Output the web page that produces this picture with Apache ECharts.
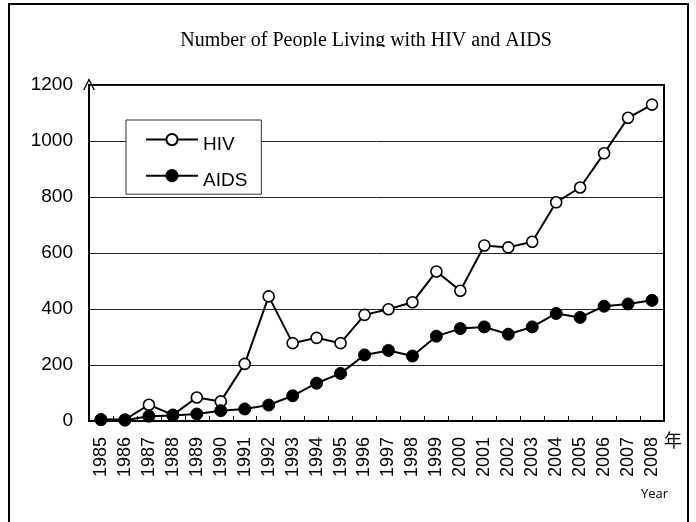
<!DOCTYPE html>
<html>
<head>
<meta charset="utf-8">
<script src="https://cdn.jsdelivr.net/npm/echarts@6/dist/echarts.min.js"></script>
<style>
  html, body { margin: 0; padding: 0; background: #fff; }
  #chart { width: 696px; height: 522px; }
</style>
</head>
<body>
<div id="chart"></div>
<script>
var years = ['1985', '1986', '1987', '1988', '1989', '1990', '1991', '1992', '1993', '1994', '1995', '1996',
  '1997', '1998', '1999', '2000', '2001', '2002', '2003', '2004', '2005', '2006', '2007', '2008'];
var hiv = [5, 5, 58, 22, 84, 70, 204, 445, 278, 297, 278, 379, 399, 424, 534, 465, 627, 620, 640, 781, 834, 956, 1083, 1130];
var aids = [5, 3, 17, 20, 25, 37, 43, 57, 90, 135, 170, 236, 252, 232, 303, 330, 336, 310, 336, 384, 370, 410, 418, 431];
var yTicks = [0, 200, 400, 600, 800, 1000, 1200];

var chart = echarts.init(document.getElementById('chart'), null, { renderer: 'canvas' });

var sans = '"Liberation Sans", Arial, sans-serif';

chart.setOption({
  animation: false,
  backgroundColor: '#fff',
  title: {
    text: 'Number of People Living with HIV and AIDS',
    left: 361,
    textAlign: 'center',
    top: 26,
    textStyle: { fontFamily: '"Liberation Serif", "Times New Roman", serif', fontSize: 20, fontWeight: 'normal', color: '#000' }
  },
  legend: {
    orient: 'vertical',
    left: 126,
    top: 120,
    padding: [13, 14, 4, 19],
    itemGap: 15,
    itemWidth: 52,
    itemHeight: 14,
    backgroundColor: '#fff',
    borderColor: '#333',
    borderWidth: 1,
    formatter: function (name) { return '{t|' + name + '}'; },
    textStyle: {
      fontFamily: sans, fontSize: 19, color: '#000',
      rich: { t: { fontFamily: sans, fontSize: 19, color: '#000', padding: [10, 0, 0, 0] } }
    },
    data: ['HIV', 'AIDS']
  },
  grid: {
    left: 89, right: 32, top: 85, bottom: 101,
    show: true, borderColor: '#000', borderWidth: 2, backgroundColor: 'transparent'
  },
  xAxis: {
    type: 'category',
    data: years,
    boundaryGap: true,
    axisLine: { lineStyle: { color: '#000', width: 2 } },
    axisTick: { show: true, inside: true, length: 5, lineStyle: { color: '#000', width: 1 } },
    axisLabel: { rotate: 90, fontFamily: sans, fontSize: 18, color: '#000', margin: 16, interval: 0 },
    splitLine: { show: false }
  },
  yAxis: {
    type: 'value',
    min: yTicks[0],
    max: yTicks[yTicks.length - 1],
    interval: 200,
    axisLine: {
      show: true,
      symbol: ['none', 'path://M0,10 L5,0 L10,10 L8.8,10 L5,2.4 L1.2,10 Z'],
      symbolSize: [13, 12],
      symbolOffset: [0, 1],
      lineStyle: { color: '#000', width: 2 }
    },
    axisTick: { show: true, inside: true, length: 5, lineStyle: { color: '#000' } },
    axisLabel: {
      fontFamily: sans, fontSize: 19, color: '#000', margin: 16,
      formatter: function (v) { return String(v); }
    },
    splitLine: { show: true, lineStyle: { color: '#222', width: 1 } }
  },
  series: [
    {
      name: 'HIV',
      type: 'line',
      data: hiv,
      symbol: 'circle',
      symbolSize: 11,
      lineStyle: { color: '#000', width: 2 },
      itemStyle: { color: '#fff', borderColor: '#000', borderWidth: 1.6 }
    },
    {
      name: 'AIDS',
      type: 'line',
      data: aids,
      symbol: 'circle',
      symbolSize: 12,
      lineStyle: { color: '#000', width: 2 },
      itemStyle: { color: '#000', borderColor: '#000', borderWidth: 1 }
    }
  ],
  graphic: [
    {
      type: 'rect',
      shape: { x: 9, y: 4, width: 679, height: 540 },
      style: { fill: 'none', stroke: '#000', lineWidth: 2 },
      silent: true
    },
    {
      type: 'rect',
      shape: { x: 170, y: 47, width: 390, height: 8 },
      style: { fill: '#fff' },
      silent: true,
      z: 100
    },
    {
      type: 'text',
      left: 664,
      top: 431,
      style: { text: '年', fontFamily: '"Noto Sans CJK JP", sans-serif', fontSize: 18, fill: '#000' }
    },
    {
      type: 'text',
      left: 641,
      top: 488,
      style: { text: 'Year', fontFamily: '"Open Sans", sans-serif', fontSize: 13, fill: '#000' }
    }
  ]
});
</script>
</body>
</html>
